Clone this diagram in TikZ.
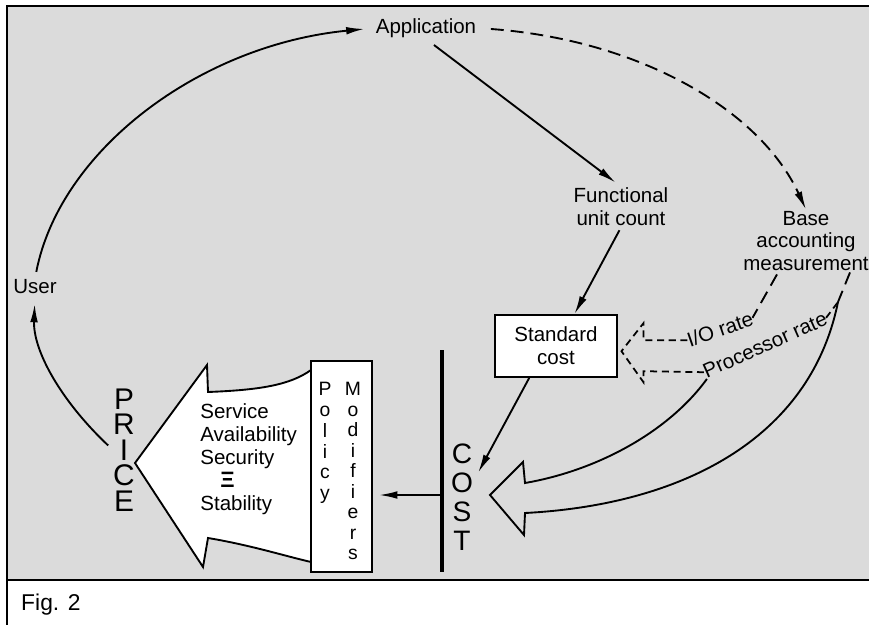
\documentclass[tikz,border=0pt]{standalone}
\usepackage{fontspec}
\setmainfont{Liberation Sans}
\usetikzlibrary{arrows.meta, positioning}

\begin{document}
\begin{tikzpicture}[
    x=0.03cm, y=-0.03cm,
    txt/.style={align=center, inner sep=1pt,
                font=\fontsize{17.5}{19.5}\selectfont},
    box/.style={draw, fill=white, line width=1.6pt},
    stack/.style={align=center, inner sep=0pt},
    arrow/.style={-{Latex[length=5.5mm, width=2.3mm]}, line width=1.6pt},
    dashline/.style={line width=1.6pt, dash pattern=on 11pt off 6pt},
    dashsmall/.style={line width=1.5pt, dash pattern=on 6pt off 4pt}
]
    \useasboundingbox (0,0) rectangle (869,625);

    % ── Cadre et fond ──
    \fill[black!14] (7,6) rectangle (869,580);
    \draw[line width=2.2pt] (869,6) -- (7,6) -- (7,625);
    \draw[line width=1.6pt] (7,580) -- (869,580);

    % ── Grosse flèche vers PRICE (dessinée sous la boîte) ──
    \draw[line width=1.6pt, fill=white]
        (311,370) .. controls (290,385) and (260,390) .. (208,392)
        -- (207,365) -- (135,463) -- (203,567) -- (208,538)
        .. controls (250,545) and (285,556) .. (311,562) -- cycle;

    % ── Textes ──
    \node[txt] (Application) at (426,28) {Application};
    \node[txt] (User) at (35,287) {User};
    \node[txt] (FuncCount) at (621,207) {Functional\\unit count};
    \node[txt] (BaseMeas) at (806,241) {Base\\accounting\\measurement};
    \node[box, txt, minimum width=3.66cm, minimum height=1.86cm]
        (StdCost) at (556,346) {Standard\\cost};

    \node[txt, inner sep=0pt, rotate=19] (IORate) at (720,329) {I/O rate};
    \node[txt, inner sep=0pt, rotate=24] (ProcRate) at (765,345) {Processor rate};

    \node[stack, font=\fontsize{24}{24.7}\selectfont] (Cost) at (462,497)
        {C\\O\\S\\T};
    \node[stack, font=\fontsize{25.5}{21.8}\selectfont] (Price) at (124,450)
        {P\\R\\I\\C\\E};

    \node[box, minimum width=1.83cm, minimum height=6.33cm] (Modif) at (341.5,466.5) {};
    \node[stack, anchor=north, font=\fontsize{16.5}{17.8}\selectfont]
        (PolicyTxt) at (325,382) {P\\o\\l\\i\\c\\y};
    \node[stack, anchor=north, font=\fontsize{16.5}{17.5}\selectfont]
        (ModifTxt) at (353,382) {M\\o\\d\\i\\f\\i\\e\\r\\s};

    \node[txt, align=left, anchor=west, font=\fontsize{17.5}{19.6}\selectfont]
        (Attrs) at (199,459)
        {Service\\Availability\\Security\\
         \hspace*{0.6cm}{\fontsize{19}{19}\selectfont\bfseries Ξ}\\Stability};

    \node[anchor=west, inner sep=0pt, font=\fontsize{19.5}{22}\selectfont]
        (Caption) at (21,605) {Fig. 2};

    % ── Barre COST ──
    \coordinate (BarTop) at (442,350);
    \coordinate (BarBot) at (442,572);
    \coordinate (BarMid) at (442,495);
    \draw[line width=3.5pt] (BarTop) -- (BarBot);

    % ── Flèches ──
    \draw[arrow, shorten <=2mm, shorten >=3mm] (User.north)
        .. controls (60,150) and (200,45) .. (Application.west);
    \draw[arrow, shorten <=2mm, shorten >=2.5mm] (Price.west)
        .. controls (60,400) and (33,350) .. (User.south);
    \draw[arrow, shorten <=3mm, shorten >=2mm] (Application.south) -- (FuncCount.north);
    \draw[dashline, -{Latex[length=5.5mm, width=2.3mm]}, shorten <=4mm]
        (Application.east) .. controls (640,40) and (760,110) .. (BaseMeas.north);
    \draw[arrow, shorten <=1mm] (FuncCount.south) -- (StdCost.60);
    \draw[arrow] (StdCost.230) -- ([shift={(5,29)}]Cost.north east);
    \draw[arrow, shorten >=1.8mm] (BarMid) -- (BarMid -| Modif.east);

    % ── Taux (pointillés) ──
    \coordinate (Split) at (838,302);
    \draw[dashline] ([shift={(-29,2)}]BaseMeas.south) -- (IORate.east);
    \draw[dashline] ([shift={(44,0)}]BaseMeas.south) -- (Split);
    \draw[dashsmall] (ProcRate.east) -- (Split);
    \draw[dashsmall] (IORate.west) -- ++(-44,0) -- ++(0,-17) -- ++(-22,28)
        -- ++(22,31) -- ++(0,-11) -- (ProcRate.west);

    % ── Grosse flèche vers COST ──
    \draw[line width=1.6pt] (ProcRate.south west)
        .. controls (670,430) and (600,470) .. (525,483)
        -- (523,462) -- (490,495) -- (524,535) -- (525,513)
        .. controls (680,505) and (810,440) .. (Split);

\end{tikzpicture}
\end{document}
